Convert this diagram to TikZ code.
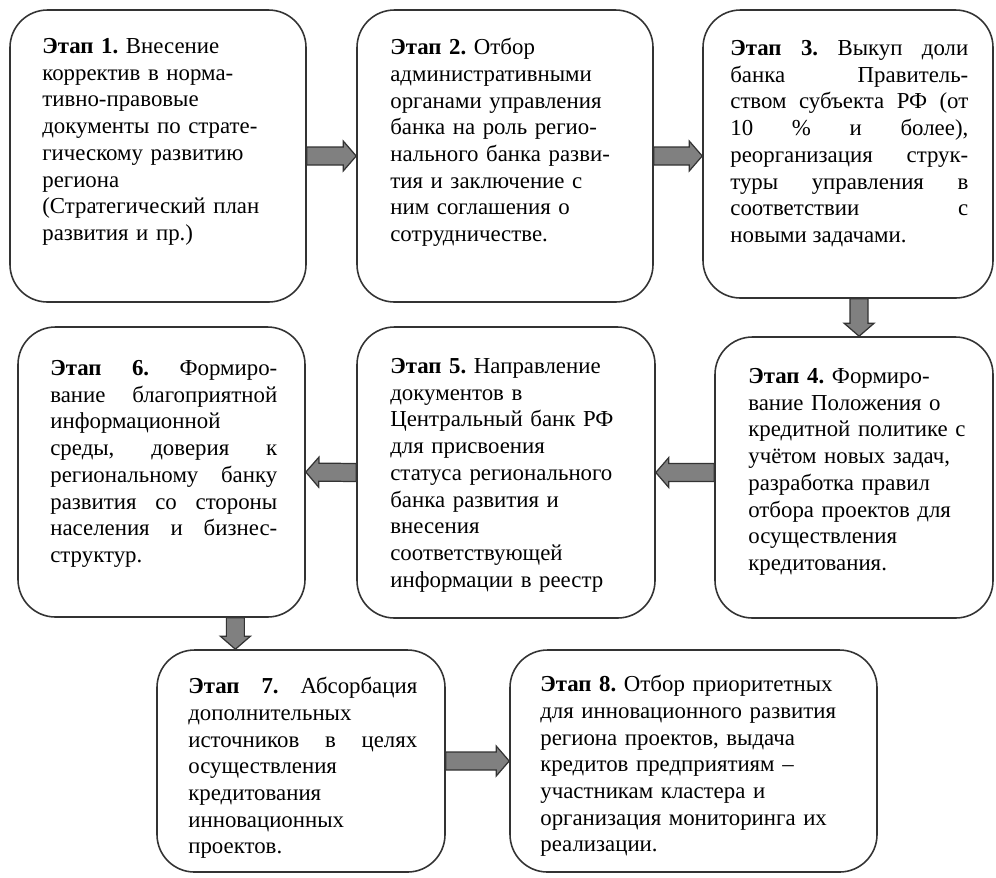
\documentclass[tikz,border=0pt]{standalone}
\usepackage{fontspec}
\setmainfont{Liberation Serif}
\usetikzlibrary{calc,fit}
\frenchspacing

\newcommand{\arrbody}{0.18cm}
\newcommand{\arrhead}{0.30cm}
\newcommand{\arrlen}{0.26cm}

\tikzset{
  stage/.style={draw=black!80, line width=0.9pt, rounded corners=0.75cm, inner sep=0pt, fill=white},
  stagetext/.style={anchor=north west, inner sep=0pt, font=\fontsize{13}{15.2}\selectfont},
  blockarrow/.style={draw=black!80, fill=black!50, line width=0.7pt,
    to path={
      ($(\tikztostart)!\arrbody!90:(\tikztotarget)$)
      -- ($($(\tikztotarget)!\arrlen!(\tikztostart)$)!\arrbody!90:(\tikztotarget)$)
      -- ($($(\tikztotarget)!\arrlen!(\tikztostart)$)!\arrhead!90:(\tikztotarget)$)
      -- (\tikztotarget)
      -- ($($(\tikztotarget)!\arrlen!(\tikztostart)$)!\arrhead!-90:(\tikztotarget)$)
      -- ($($(\tikztotarget)!\arrlen!(\tikztostart)$)!\arrbody!-90:(\tikztotarget)$)
      -- ($(\tikztostart)!\arrbody!-90:(\tikztotarget)$) -- cycle}}
}

\begin{document}
\begin{tikzpicture}[x=0.02cm, y=-0.02cm]
\useasboundingbox (0,0) rectangle (996,877);

\node [stage, fit={(10,10) (306,302)}] (s1) {};
\node [stage, fit={(357,10) (653,302)}] (s2) {};
\node [stage, fit={(703,10) (993,298)}] (s3) {};
\node [stage, fit={(715,337) (993,618)}] (s4) {};
\node [stage, fit={(357,327) (655,618)}] (s5) {};
\node [stage, fit={(18,327) (305,617)}] (s6) {};
\node [stage, fit={(157,650) (445,872)}] (s7) {};
\node [stage, fit={(510,650) (877,872)}] (s8) {};

\node [stagetext, text width=6cm, align=left] (t1) at (42,38) {\textbf{Этап 1.} Внесение\\
корректив в норма-\\
тивно-правовые\\
документы по страте-\\
гическому развитию\\
региона\\
(Стратегический план\\
развития и пр.)};

\node [stagetext, text width=6cm, align=left] (t2) at (390,38) {\textbf{Этап 2.} Отбор\\
административными\\
органами управления\\
банка на роль регио-\\
нального банка разви-\\
тия и заключение с\\
ним соглашения о\\
сотрудничестве.};

\node [stagetext, text width=4.76cm, align=justify] (t3) at (730,40) {\textbf{Этап 3.} Выкуп доли\linebreak
банка Правитель-\linebreak
ством субъекта РФ (от\linebreak
10 \% и более),\linebreak
реорганизация струк-\linebreak
туры управления в\linebreak
соответствии с\linebreak
новыми задачами.};

\node [stagetext, text width=6cm, align=left] (t4) at (748,368) {\textbf{Этап 4.} Формиро-\\
вание Положения о\\
кредитной политике с\\
учётом новых задач,\\
разработка правил\\
отбора проектов для\\
осуществления\\
кредитования.};

\node [stagetext, text width=6cm, align=left] (t5) at (390,358) {\textbf{Этап 5.} Направление\\
документов в\\
Центральный банк РФ\\
для присвоения\\
статуса регионального\\
банка развития и\\
внесения\\
соответствующей\\
информации в реестр};

\node [stagetext, text width=4.54cm, align=justify] (t6) at (50,360) {\textbf{Этап 6.} Формиро-\linebreak
вание благоприятной\linebreak
информационной\\
среды, доверия к\linebreak
региональному банку\linebreak
развития со стороны\linebreak
населения и бизнес-\linebreak
структур.};

\node [stagetext, text width=4.58cm, align=justify] (t7) at (188,677) {\textbf{Этап 7.} Абсорбация\linebreak
дополнительных\\
источников в целях\linebreak
осуществления\\
кредитования\\
инновационных\\
проектов.};

\node [stagetext, text width=6.5cm, align=left] (t8) at (540,675) {\textbf{Этап 8.} Отбор приоритетных\\
для инновационного развития\\
региона проектов, выдача\\
кредитов предприятиям –\\
участникам кластера и\\
организация мониторинга их\\
реализации.};

\coordinate (a2) at (s2.east -| s3.west);
\coordinate (a3) at ($(s3.south west)!0.538!(s3.south east)$);
\coordinate (a4) at (s4.west |- s5.east);
\coordinate (a6) at ($(s6.south west)!0.756!(s6.south east)$);

\draw [blockarrow] (s1.east) to (s2.west);
\draw [blockarrow] (s2.east) to (a2);
\draw [blockarrow] (a3) to (a3 |- s4.north);
\draw [blockarrow] (a4) to (s5.east);
\draw [blockarrow] (s5.west) to (s6.east);
\draw [blockarrow] (a6) to (a6 |- s7.north);
\draw [blockarrow] (s7.east) to (s8.west);
\end{tikzpicture}
\end{document}
